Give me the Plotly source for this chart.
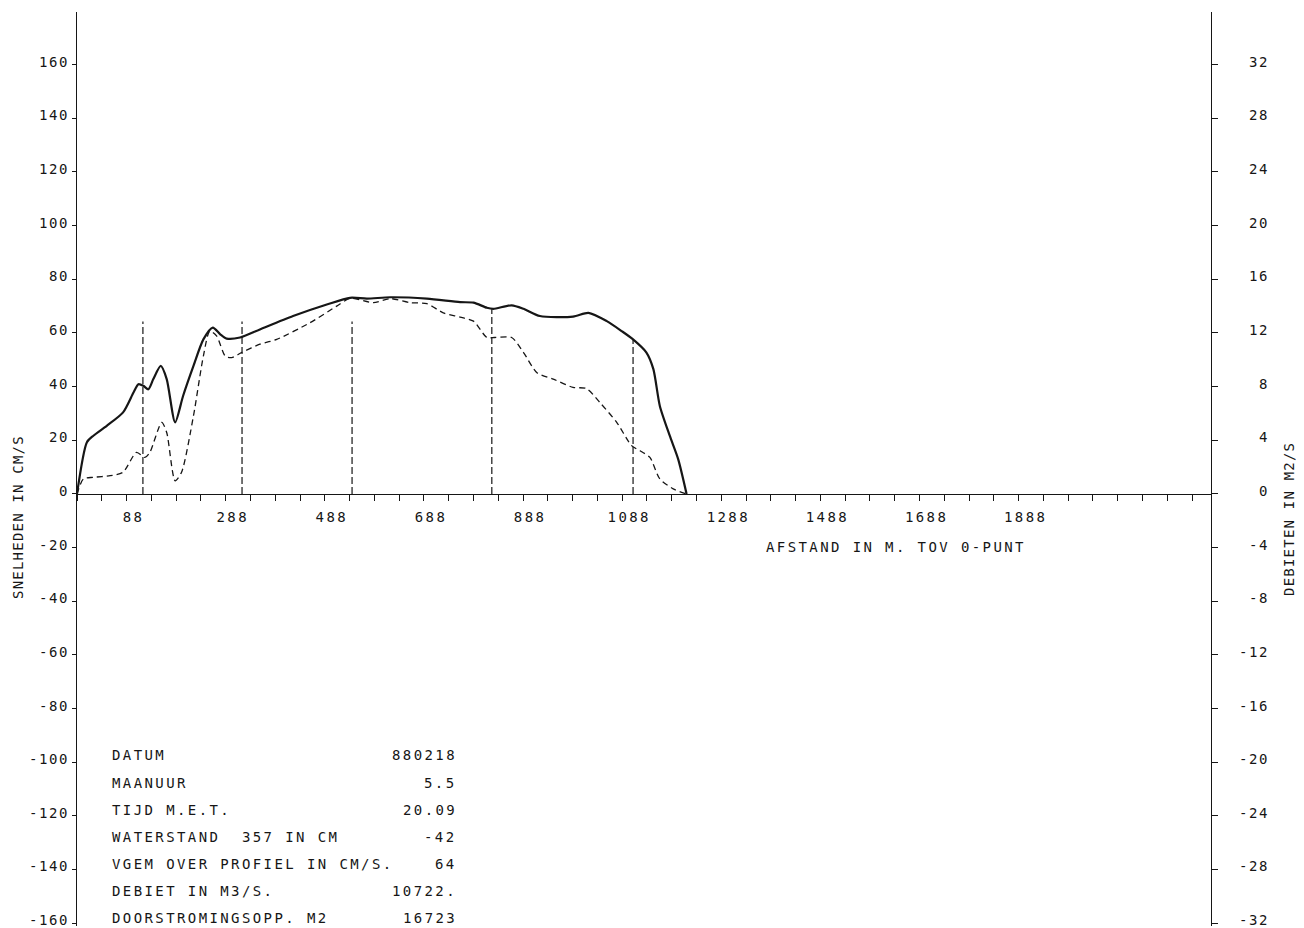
import plotly.graph_objects as go

# ---------------- data ----------------
distance_solid = [0, 20, 33, 60, 93, 114, 124, 134, 144, 154, 169, 181, 198, 214, 235, 255, 274, 289, 302, 329,
                  369, 436, 504, 551, 585, 632, 706, 773, 800, 827, 840, 877, 901, 934, 1001, 1032, 1069, 1099,
                  1122, 1149, 1163, 1176, 1196, 1213, 1230]
speed_solid = [0, 19.3, 21.7, 25.4, 30.4, 37.8, 40.9, 40.3, 39.0, 42.8, 47.7, 42.8, 26.7, 36.5, 47.7, 57.6, 62.0,
               59.5, 57.9, 58.3, 61.3, 66.3, 70.6, 73.1, 72.8, 73.3, 72.8, 71.5, 71.3, 69.4, 69.0, 70.3, 69.0,
               66.3, 66.1, 67.5, 64.4, 60.7, 57.6, 52.7, 46.5, 32.8, 21.7, 13.0, 0]

distance_dash = [0, 13, 33, 67, 93, 120, 137, 147, 171, 181, 198, 211, 235, 255, 268, 282, 299, 312, 332, 369,
                 403, 470, 524, 551, 598, 632, 672, 706, 739, 773, 800, 827, 843, 877, 901, 928, 961, 1001, 1028,
                 1055, 1089, 1119, 1136, 1156, 1176, 1203, 1230]
discharge_dash = [0, 5.6, 6.2, 6.8, 8.1, 15.5, 13.6, 15.5, 26.7, 22.9, 4.9, 8.1, 29.1, 51.4, 60.7, 58.8, 51.4,
                  50.8, 52.7, 55.8, 57.6, 63.8, 70.0, 72.9, 71.3, 72.8, 71.3, 70.9, 67.5, 65.9, 64.4, 58.3, 58.3,
                  58.3, 52.7, 45.2, 42.8, 39.7, 39.3, 34.1, 26.7, 18.0, 16.1, 13.6, 5.6, 1.9, 0]

vertical_x = [133, 333, 555, 837, 1122]
vertical_top = [64.3, 64.3, 64.3, 68.8, 57.6]

left_ticks = list(range(-160, 161, 20))
right_ticks = list(range(-32, 33, 4))
x_tick_vals = [88, 288, 488, 688, 888, 1088, 1288, 1488, 1688, 1888]
x_tick_text = ["88", "288", "488", "688", "888", "1088", "1288", "1488", "1688", "1888"]

info_labels = ["DATUM", "MAANUUR", "TIJD M.E.T.", "WATERSTAND\u00a0\u00a0357 IN CM",
               "VGEM OVER PROFIEL IN CM/S.", "DEBIET IN M3/S.", "DOORSTROMINGSOPP. M2"]
info_values = ["880218", "5.5", "20.09", "-42", "64", "10722.", "16723"]

# ---------------- layout geometry (target pixels in the 1304x928 page) ----------------
OFF = 8                        # default body margin of the html page
W, H = 1304, 928
L, T = 77, 12                  # left axis line / top of axes (page pixels)
BOT = 928                      # bottom of axes (page pixels)
PR = 1292                      # right edge of plotting area (page pixels)
PW, PH = PR - L, BOT - T
AXR = 1211                     # right axis line
Y0 = 495                       # pixel of zero line
XDOM = (AXR - L) / PW
PXM = 0.4956                   # pixels per metre
X_MAX = (AXR - L) / PXM
PXV = 2.689                    # pixels per cm/s
Y_TOP = (Y0 - T) / PXV
Y_BOT = -(BOT - Y0) / PXV

INK = "#161616"
FONT = "DejaVu Sans Mono"


def sp(t, ls=2.4):
    return f'<span style="letter-spacing:{ls}px">{t}</span>'


def fx(px):
    return (px - L) / PW


def fy(py):
    return (BOT - py) / PH


fig = go.Figure()

fig.add_trace(go.Scatter(x=distance_solid, y=speed_solid, mode="lines",
                         line=dict(color=INK, width=2.2, shape="spline", smoothing=0.7),
                         hoverinfo="skip", showlegend=False))
fig.add_trace(go.Scatter(x=distance_dash, y=discharge_dash, mode="lines",
                         line=dict(color=INK, width=1.3, dash="6px,4px", shape="spline", smoothing=0.7),
                         hoverinfo="skip", showlegend=False))

vx, vy = [], []
for xv, top in zip(vertical_x, vertical_top):
    vx += [xv, xv, None]
    vy += [0, top, None]
fig.add_trace(go.Scatter(x=vx, y=vy, mode="lines",
                         line=dict(color=INK, width=1.2, dash="7px,3px"),
                         hoverinfo="skip", showlegend=False))

tickfont = dict(family=FONT, size=14, color=INK)

fig.update_layout(
    width=W - OFF, height=H - OFF,
    margin=dict(l=L - OFF, r=W - PR, t=T - OFF, b=0, pad=0),
    paper_bgcolor="white", plot_bgcolor="white",
    showlegend=False,
    xaxis=dict(domain=[0, XDOM], range=[0, X_MAX], anchor="free", position=fy(Y0),
               showgrid=False, zeroline=False, showline=True, linecolor=INK, linewidth=1.4,
               tickmode="array", tickvals=x_tick_vals, ticktext=[sp(t) for t in x_tick_text],
               ticks="outside", ticklen=0, ticklabelshift=13, ticklabelstandoff=10,
               tickfont=tickfont,
               minor=dict(tick0=0, dtick=50, ticks="outside", ticklen=6, tickcolor=INK, tickwidth=1.2,
                          showgrid=False)),
    yaxis=dict(domain=[0, 1], range=[Y_BOT, Y_TOP], anchor="x", side="left",
               showgrid=False, zeroline=False, showline=True, linecolor=INK, linewidth=1.4,
               tickmode="array", tickvals=left_ticks, ticktext=[sp(str(v), 1.6) for v in left_ticks],
               ticks="outside", ticklen=4, tickwidth=1.2, tickcolor=INK, ticklabelshift=-3,
               ticklabelstandoff=0, ticklabeloverflow="allow", tickfont=tickfont),
    yaxis2=dict(range=[Y_BOT / 5, Y_TOP / 5], overlaying="y", anchor="free", position=XDOM, side="right",
                showgrid=False, zeroline=False, showline=True, linecolor=INK, linewidth=1.4,
                tickmode="array", tickvals=right_ticks, showticklabels=False,
                ticks="outside", ticklen=6, tickwidth=1.2, tickcolor=INK),
    yaxis3=dict(range=[Y_BOT / 5, Y_TOP / 5], overlaying="y", anchor="free", position=fx(1269), side="left",
                showgrid=False, zeroline=False, showline=False,
                tickmode="array", tickvals=right_ticks, ticktext=[sp(str(v), 1.6) for v in right_ticks],
                ticks="", ticklabelshift=-3, ticklabelstandoff=0, ticklabeloverflow="allow",
                tickfont=tickfont),
)

# hidden anchors so the overlay axes are always drawn
for ax in ["y2", "y3"]:
    fig.add_trace(go.Scatter(x=[None], y=[None], yaxis=ax, mode="lines", showlegend=False, hoverinfo="skip"))

annots = []
txtfont = dict(family=FONT, size=14, color=INK)
annots.append(dict(text=sp("SNELHEDEN IN CM/S", 1.2), x=fx(18), y=fy(518), xref="paper", yref="paper",
                   textangle=-90, showarrow=False, font=txtfont, xanchor="center", yanchor="middle"))
annots.append(dict(text=sp("DEBIETEN IN M2/S", 1.2), x=fx(1289), y=fy(520), xref="paper", yref="paper",
                   textangle=-90, showarrow=False, font=txtfont, xanchor="center", yanchor="middle"))
annots.append(dict(text=sp("AFSTAND IN M. TOV 0-PUNT"), x=fx(896), y=fy(548), xref="paper", yref="paper",
                   showarrow=False, font=txtfont, xanchor="center", yanchor="middle"))
for i, (lab, val) in enumerate(zip(info_labels, info_values)):
    yy = fy(757 + 27.2 * i)
    annots.append(dict(text=sp(lab), x=fx(110), y=yy, xref="paper", yref="paper", showarrow=False,
                       font=txtfont, xanchor="left", yanchor="middle"))
    annots.append(dict(text=sp(val), x=fx(459), y=yy, xref="paper", yref="paper", showarrow=False,
                       font=txtfont, xanchor="right", yanchor="middle"))
fig.update_layout(annotations=annots)

fig.write_html("out.html", config={"displayModeBar": False})
